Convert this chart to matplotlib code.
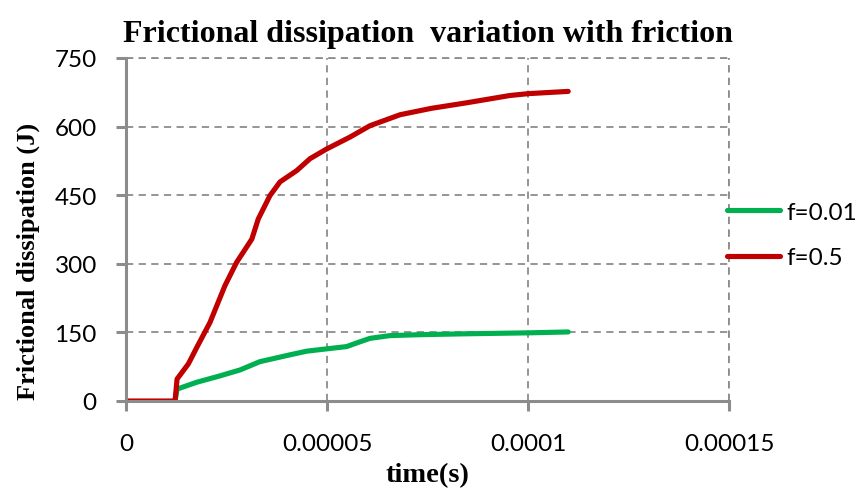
import matplotlib
matplotlib.use("Agg")
import matplotlib.pyplot as plt

# Frictional dissipation histories (time in s, energy in J)
t_low = [1.22e-5, 1.27e-5, 1.76e-5, 2.34e-5, 2.84e-5, 3.33e-5, 4.08e-5, 4.50e-5,
         4.99e-5, 5.49e-5, 5.74e-5, 6.07e-5, 6.57e-5, 7.31e-5, 8.50e-5, 1.00e-4, 1.10e-4]
e_low = [0, 26, 41, 55, 68, 86, 101, 109, 114, 119, 127, 137, 143, 145, 147, 149, 151]

t_high = [0, 1.22e-5, 1.27e-5, 1.55e-5, 1.76e-5, 2.09e-5, 2.46e-5, 2.75e-5, 3.13e-5,
          3.29e-5, 3.58e-5, 3.83e-5, 4.25e-5, 4.58e-5, 4.99e-5, 5.57e-5, 6.07e-5,
          6.82e-5, 7.60e-5, 8.47e-5, 9.55e-5, 1.00e-4, 1.10e-4]
e_high = [0, 0, 48, 81, 117, 172, 252, 303, 354, 398, 449, 479, 504, 530, 551, 577,
          602, 626, 640, 652, 668, 672, 677]

labels = ["f=0.01", "f=0.5"]
x_ticks = [0, 0.00005, 0.0001, 0.00015]
x_tick_labels = ["0", "0.00005", "0.0001", "0.00015"]
y_ticks = [0, 150, 300, 450, 600, 750]

serif = ["Liberation Serif", "DejaVu Serif"]
sans = ["Lato", "DejaVu Sans"]

W, H = 857, 489
fig = plt.figure(figsize=(W / 100, H / 100), dpi=100)
ax = fig.add_axes([126 / W, 1 - 402 / H, (729 - 126) / W, (402 - 59) / H])

ax.plot(t_low, e_low, color="#00B050", lw=3.7, solid_capstyle="round",
        solid_joinstyle="round", label=labels[0])
ax.plot(t_high, e_high, color="#C00000", lw=3.7, solid_capstyle="round",
        solid_joinstyle="round", label=labels[1])

ax.set_xlim(0, 0.00015)
ax.set_ylim(0, 750)
ax.set_xticks(x_ticks)
ax.set_xticklabels(x_tick_labels)
ax.set_yticks(y_ticks)

grid_kw = dict(color="#8c8c8c", lw=1.3, ls=(0, (4, 3)))
ax.grid(True, **grid_kw)
ax.set_axisbelow(True)

for side in ("top", "right"):
    ax.spines[side].set_visible(False)
for side in ("left", "bottom"):
    ax.spines[side].set_color("#8c8c8c")
    ax.spines[side].set_linewidth(2.2)
ax.tick_params(axis="both", colors="#8c8c8c", width=2.2, length=7, direction="out",
               labelcolor="black", labelsize=17.5)
ax.tick_params(axis="y", pad=14)
ax.tick_params(axis="x", pad=16)
for lbl in ax.get_xticklabels() + ax.get_yticklabels():
    lbl.set_family(sans)
ax.axhline(750, **grid_kw, clip_on=False)
ax.axvline(0.00015, **grid_kw, clip_on=False)

ax.set_title("Frictional dissipation  variation with friction", family=serif,
             fontweight="bold", fontsize=23, pad=12)
ax.set_xlabel("time(s)", family=serif, fontweight="bold", fontsize=20.5, labelpad=6)
ax.set_ylabel("Frictional dissipation (J)", family=serif, fontweight="bold", fontsize=19)
ax.yaxis.set_label_coords(-0.143, 0.41)

leg = fig.legend(loc="center left", bbox_to_anchor=(727 / W, 1 - 236 / H), frameon=False,
                 prop={"family": sans, "size": 17.5}, handlelength=2.2, handletextpad=0.25,
                 labelspacing=1.0, borderpad=0, borderaxespad=0)

fig.savefig("out.png", dpi=100)
